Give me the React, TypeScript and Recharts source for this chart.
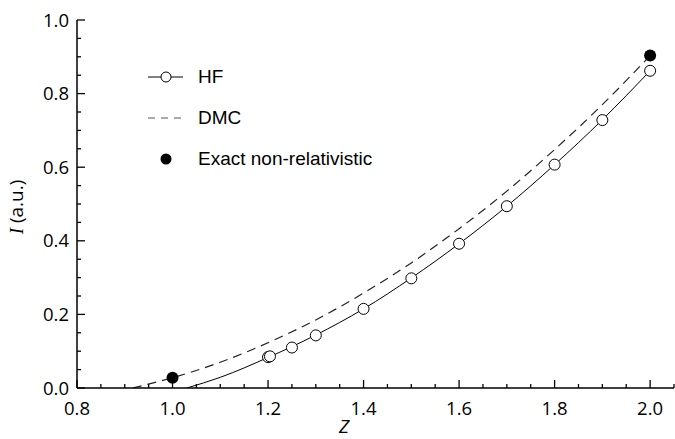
import React from 'react';
import { ComposedChart, Line, Scatter, XAxis, YAxis, Legend } from 'recharts';

// HF calculated points
const hfZ = [1.2, 1.204, 1.25, 1.3, 1.4, 1.5, 1.6, 1.7, 1.8, 1.9, 2.0];
const hfI = [0.084, 0.086, 0.11, 0.143, 0.215, 0.298, 0.392, 0.494, 0.607, 0.728, 0.862];

// HF fitted curve
const hfCurveZ = [1.03, 1.1, 1.2, 1.3, 1.4, 1.5, 1.6, 1.7, 1.8, 1.9, 2.0];
const hfCurveI = [0, 0.029, 0.083, 0.144, 0.215, 0.299, 0.392, 0.494, 0.607, 0.729, 0.862];

// DMC curve
const dmcZ = [0.917, 1.0, 1.1, 1.2, 1.3, 1.4, 1.5, 1.6, 1.7, 1.8, 1.9, 2.0];
const dmcI = [0, 0.028, 0.07, 0.123, 0.185, 0.258, 0.34, 0.433, 0.535, 0.648, 0.77, 0.903];

// Exact non-relativistic
const exactZ = [1.0, 2.0];
const exactI = [0.0277, 0.9037];

// ticks (major + minor)
const xTicks = [0.8, 0.85, 0.9, 0.95, 1.0, 1.05, 1.1, 1.15, 1.2, 1.25, 1.3, 1.35, 1.4, 1.45, 1.5, 1.55, 1.6, 1.65, 1.7, 1.75, 1.8, 1.85, 1.9, 1.95, 2.0, 2.05];
const yTicks = [0, 0.05, 0.1, 0.15, 0.2, 0.25, 0.3, 0.35, 0.4, 0.45, 0.5, 0.55, 0.6, 0.65, 0.7, 0.75, 0.8, 0.85, 0.9, 0.95, 1.0];

const zip = (zs: number[], is: number[]) => zs.map((z, k) => ({ z, I: is[k] }));
const hfPts = zip(hfZ, hfI);
const hfCurve = zip(hfCurveZ, hfCurveI);
const dmcCurve = zip(dmcZ, dmcI);
const exactPts = zip(exactZ, exactI);

const TICK_FONT = '"Open Sans", sans-serif';
const LEG_FONT = '"Liberation Sans", Arial, sans-serif';

const XTick = (props: any) => {
  const { x, y, payload } = props;
  const v = payload.value as number;
  const major = Math.round(v * 100) % 20 === 0;
  return (
    <g>
      <line x1={x} x2={x} y1={y} y2={y - (major ? 8 : 4)} stroke="#000" strokeWidth={1.3} />
      {major && (
        <text x={x} y={y + 27} textAnchor="middle" fontFamily={TICK_FONT} fontSize={18.5} fill="#000">
          {v.toFixed(1)}
        </text>
      )}
    </g>
  );
};

const YTick = (props: any) => {
  const { x, y, payload } = props;
  const v = payload.value as number;
  const major = Math.round(v * 100) % 20 === 0;
  return (
    <g>
      <line x1={x} x2={x + (major ? 8 : 4)} y1={y} y2={y} stroke="#000" strokeWidth={1.3} />
      {major && (
        <text x={x - 8} y={y + 6.5} textAnchor="end" fontFamily={TICK_FONT} fontSize={18.5} fill="#000">
          {v.toFixed(1)}
        </text>
      )}
    </g>
  );
};

const renderLegend = () => {
  const row: React.CSSProperties = { display: 'flex', alignItems: 'center', height: 41 };
  const txt: React.CSSProperties = { fontFamily: LEG_FONT, fontSize: 19, color: '#000', marginLeft: 8 };
  return (
    <div>
      <div style={row}>
        <svg width={50} height={20}>
          <line x1={8} x2={43} y1={10} y2={10} stroke="#000" strokeWidth={1} />
          <circle cx={26} cy={10} r={5} fill="#fff" stroke="#000" strokeWidth={1} />
        </svg>
        <span style={txt}>HF</span>
      </div>
      <div style={row}>
        <svg width={50} height={20}>
          <line x1={8} x2={43} y1={10} y2={10} stroke="#555" strokeWidth={1.2} strokeDasharray="7 6" />
        </svg>
        <span style={txt}>DMC</span>
      </div>
      <div style={row}>
        <svg width={50} height={20}>
          <circle cx={26} cy={10} r={5.5} fill="#000" />
        </svg>
        <span style={txt}>Exact non-relativistic</span>
      </div>
    </div>
  );
};

const OpenCircle = (props: any) => {
  const { cx, cy } = props;
  return <circle cx={cx} cy={cy} r={5.5} fill="#fff" stroke="#000" strokeWidth={1} />;
};

const FilledCircle = (props: any) => {
  const { cx, cy } = props;
  return <circle cx={cx} cy={cy} r={6} fill="#000" />;
};

export default function App() {
  return (
    <div style={{ position: 'absolute', left: 0, top: 0, width: 675, height: 439, background: '#fff' }}>
      <ComposedChart width={675} height={439} margin={{ top: 20, right: 1, left: 0, bottom: 0 }}>
        <XAxis
          type="number"
          dataKey="z"
          domain={[0.8, 2.05]}
          ticks={xTicks}
          interval={0}
          allowDataOverflow
          height={51}
          tickSize={0}
          tickMargin={0}
          tickLine={false}
          axisLine={{ stroke: '#000', strokeWidth: 1.5 }}
          tick={<XTick />}
          label={{
            content: () => (
              <text x={344} y={433} textAnchor="middle" fontFamily={TICK_FONT} fontSize={19} fontStyle="italic" fill="#000">
                Z
              </text>
            ),
          }}
        />
        <YAxis
          type="number"
          dataKey="I"
          domain={[0, 1]}
          ticks={yTicks}
          interval={0}
          allowDataOverflow
          width={77}
          tickSize={0}
          tickMargin={0}
          tickLine={false}
          axisLine={{ stroke: '#000', strokeWidth: 1.5 }}
          tick={<YTick />}
          label={{
            content: () => (
              <text
                x={0}
                y={0}
                transform="translate(23,207) rotate(-90)"
                textAnchor="middle"
                fontFamily={TICK_FONT}
                fontSize={19}
                fill="#000"
              >
                <tspan fontStyle="italic" fontFamily='"Liberation Serif", "DejaVu Serif", serif'>I</tspan>
                <tspan> (a.u.)</tspan>
              </text>
            ),
          }}
        />
        <Legend
          layout="vertical"
          align="center"
          verticalAlign="middle"
          wrapperStyle={{ position: 'absolute', left: 140, top: 56, width: 'auto' }}
          content={renderLegend}
        />
        <Line
          data={dmcCurve}
          dataKey="I"
          type="monotone"
          stroke="#222"
          strokeWidth={1.2}
          strokeDasharray="9 6"
          dot={false}
          isAnimationActive={false}
          legendType="none"
        />
        <Line
          data={hfCurve}
          dataKey="I"
          type="monotone"
          stroke="#000"
          strokeWidth={1}
          dot={false}
          isAnimationActive={false}
          legendType="none"
        />
        <Scatter data={hfPts} dataKey="I" shape={<OpenCircle />} isAnimationActive={false} legendType="none" />
        <Scatter data={exactPts} dataKey="I" shape={<FilledCircle />} isAnimationActive={false} legendType="none" />
      </ComposedChart>
    </div>
  );
}
